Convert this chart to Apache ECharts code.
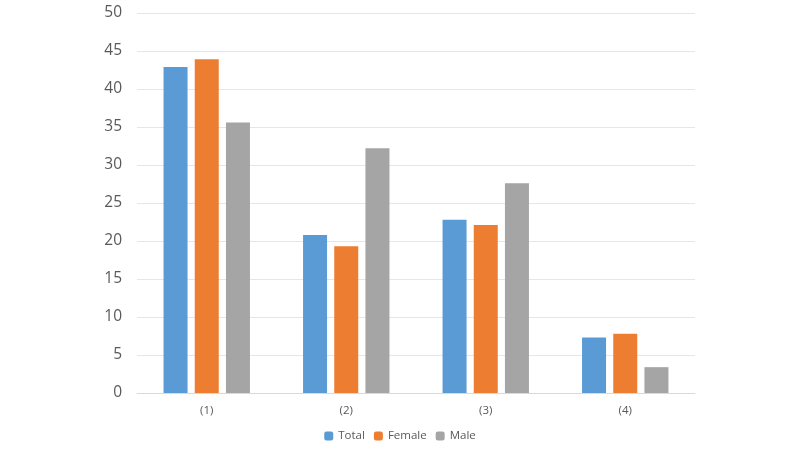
<!DOCTYPE html>
<html>
<head>
<meta charset="utf-8">
<script src="https://cdn.jsdelivr.net/npm/echarts@6/dist/echarts.min.js"></script>
<style>
  html, body { margin: 0; padding: 0; background: #fff; }
  #chart { width: 800px; height: 450px; }
</style>
</head>
<body>
<div id="chart"></div>
<script>
  var categories = ['(1)', '(2)', '(3)', '(4)'];
  var totalValues = [42.9, 20.8, 22.8, 7.3];
  var femaleValues = [43.9, 19.3, 22.1, 7.8];
  var maleValues = [35.6, 32.2, 27.6, 3.4];

  var chart = echarts.init(document.getElementById('chart'));
  chart.setOption({
    animation: false,
    legend: {
      data: ['Total', 'Female', 'Male'],
      bottom: 3,
      left: 'center',
      itemWidth: 9,
      itemHeight: 9,
      itemGap: 9,
      textStyle: { color: '#595959', fontSize: 11.5, fontFamily: 'Open Sans' }
    },
    grid: { left: 137, right: 105, top: 13, bottom: 57 },
    xAxis: {
      type: 'category',
      data: categories,
      axisTick: { show: false },
      axisLine: { lineStyle: { color: '#d9d9d9' } },
      axisLabel: { color: '#595959', fontSize: 11.5, margin: 12, fontFamily: 'Open Sans' }
    },
    yAxis: {
      type: 'value',
      min: 0,
      max: 50,
      interval: 5,
      axisLine: { show: false },
      axisTick: { show: false },
      splitLine: { lineStyle: { color: '#e6e6e6' } },
      axisLabel: { color: '#595959', fontSize: 15.5, margin: 15, fontFamily: 'Open Sans' }
    },
    series: [
      { name: 'Total', type: 'bar', data: totalValues, barWidth: 24, barGap: '30%', itemStyle: { color: '#5B9BD5' } },
      { name: 'Female', type: 'bar', data: femaleValues, barWidth: 24, barGap: '30%', itemStyle: { color: '#ED7D31' } },
      { name: 'Male', type: 'bar', data: maleValues, barWidth: 24, barGap: '30%', itemStyle: { color: '#A5A5A5' } }
    ]
  });
</script>
</body>
</html>
